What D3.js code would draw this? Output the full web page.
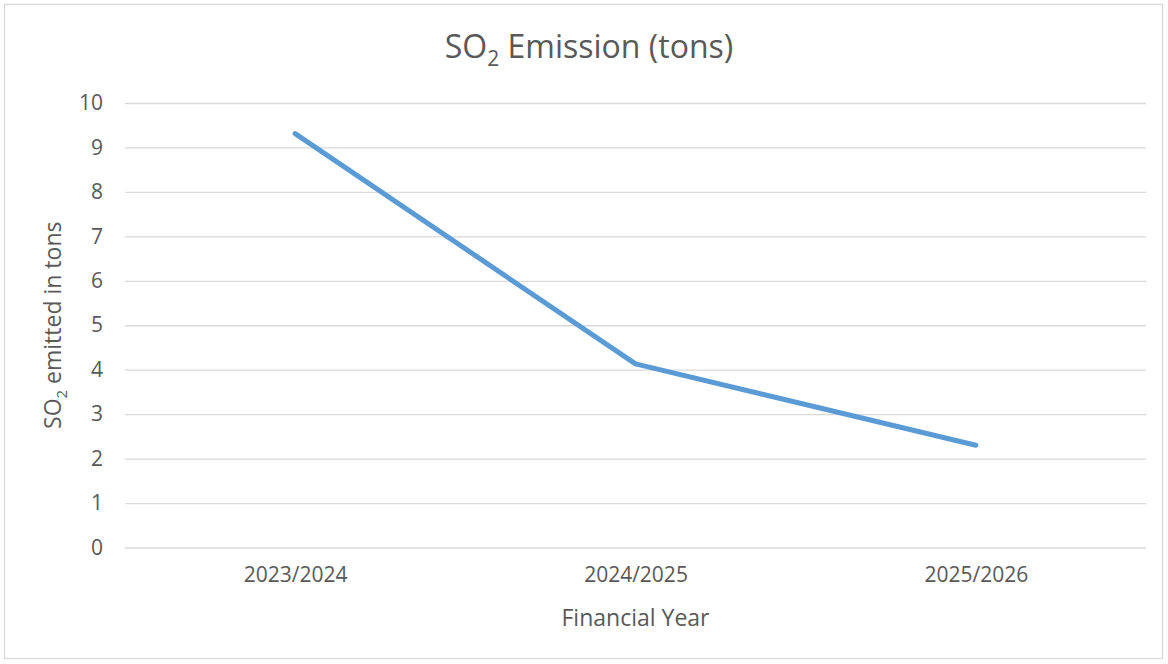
<!DOCTYPE html>
<html>
<head>
<meta charset="utf-8">
<script src="https://cdn.jsdelivr.net/npm/d3@7"></script>
<style>
  html, body { margin: 0; padding: 0; background: #fff; }
  svg { display: block; }
  text { font-family: "Open Sans", sans-serif; fill: #595959; }
</style>
</head>
<body>
<svg id="chart" width="1168" height="664"></svg>
<script>
const categories = ["2023/2024", "2024/2025", "2025/2026"];
const so2Values = [9.31, 4.13, 2.30];
const yTicks = [0, 1, 2, 3, 4, 5, 6, 7, 8, 9, 10];

const W = 1168, H = 664;
const plot = { left: 125, right: 1146, top: 103, bottom: 547.5 };

const svg = d3.select("#chart");

// outer chart border
svg.append("rect")
  .attr("x", 4.5).attr("y", 4.5)
  .attr("width", W - 10).attr("height", H - 10)
  .attr("fill", "#fff").attr("stroke", "#d9d9d9").attr("stroke-width", 1.3);

const x = d3.scalePoint()
  .domain(categories)
  .range([plot.left, plot.right])
  .padding(0.5);

const y = d3.scaleLinear()
  .domain([0, 10])
  .range([plot.bottom, plot.top]);

// gridlines via axis
const yGrid = d3.axisLeft(y)
  .tickValues(yTicks)
  .tickSize(-(plot.right - plot.left))
  .tickFormat("");
svg.append("g")
  .attr("transform", `translate(${plot.left},0)`)
  .call(yGrid)
  .call(g => g.select(".domain").remove())
  .call(g => g.selectAll("line").attr("stroke", "#d9d9d9").attr("stroke-width", 1.3));

// y tick labels
const yAxis = d3.axisLeft(y).tickValues(yTicks).tickSize(0).tickPadding(22).tickFormat(d3.format("d"));
svg.append("g")
  .attr("transform", `translate(${plot.left},0)`)
  .call(yAxis)
  .call(g => g.select(".domain").remove())
  .call(g => g.selectAll("text")
      .attr("font-family", "'Open Sans', sans-serif")
      .attr("font-size", 21)
      .attr("fill", "#595959"));

// x tick labels
const xAxis = d3.axisBottom(x).tickSize(0).tickPadding(20);
svg.append("g")
  .attr("transform", `translate(0,${plot.bottom})`)
  .call(xAxis)
  .call(g => g.select(".domain").remove())
  .call(g => g.selectAll("text")
      .attr("font-family", "'Open Sans', sans-serif")
      .attr("font-size", 21)
      .attr("fill", "#595959"));

// line
const line = d3.line()
  .x((d, i) => x(categories[i]))
  .y(d => y(d));
svg.append("path")
  .datum(so2Values)
  .attr("d", line)
  .attr("fill", "none")
  .attr("stroke", "#5b9bd5")
  .attr("stroke-width", 5)
  .attr("stroke-linecap", "round")
  .attr("stroke-linejoin", "round");

// chart title
const title = svg.append("text")
  .attr("x", 589)
  .attr("y", 58)
  .attr("text-anchor", "middle")
  .attr("font-size", 32)
  .attr("fill", "#595959");
title.append("tspan").text("SO");
title.append("tspan").text("2").attr("font-size", 21).attr("dy", 8);
title.append("tspan").text(" Emission (tons)").attr("dy", -8);

// x axis title
svg.append("text")
  .attr("x", (plot.left + plot.right) / 2)
  .attr("y", 626)
  .attr("text-anchor", "middle")
  .attr("font-size", 23)
  .attr("fill", "#595959")
  .text("Financial Year");

// y axis title
const yt = svg.append("text")
  .attr("transform", `translate(61,${(plot.top + plot.bottom) / 2}) rotate(-90)`)
  .attr("text-anchor", "middle")
  .attr("font-size", 23)
  .attr("fill", "#595959");
yt.append("tspan").text("SO");
yt.append("tspan").text("2").attr("font-size", 15).attr("dy", 6);
yt.append("tspan").text(" emitted in tons").attr("dy", -6);
</script>
</body>
</html>
